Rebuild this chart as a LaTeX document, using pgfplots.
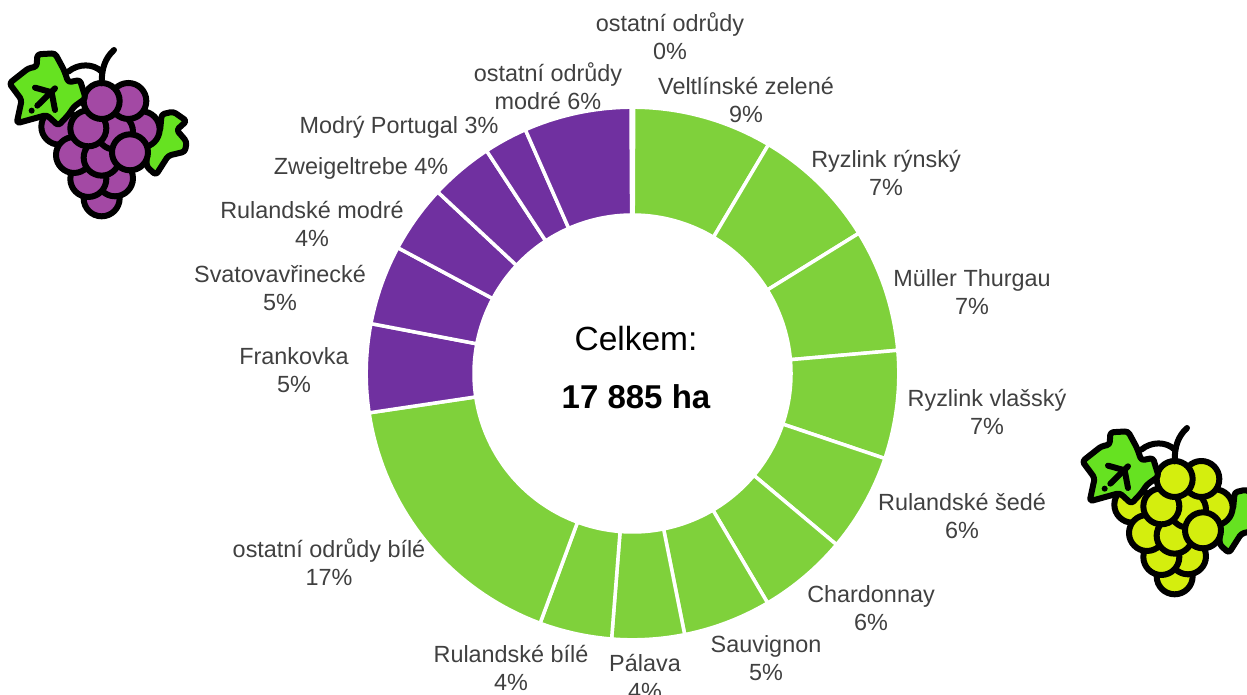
\documentclass[border=0pt]{standalone}
\usepackage{fontspec}
\setmainfont{Liberation Sans}
\usepackage{pgfplots}
\pgfplotsset{compat=1.18}

\definecolor{ringgreen}{HTML}{7FD13B}
\definecolor{ringpurple}{HTML}{7030A0}
\definecolor{labelgrey}{HTML}{404040}
\definecolor{leafgreen}{HTML}{66E221}
\definecolor{grapepurple}{HTML}{A349A4}
\definecolor{grapeyellow}{HTML}{D4EE0E}

% ring geometry in picture pixels
\newcommand\cx{632.5}
\newcommand\cy{373.5}
\newcommand\Rout{266.3}
\newcommand\Rin{158.5}
\gdef\cum{0.07}

% one ring slice: share in percent, colour
\newcommand\slice[2]{%
  \pgfmathsetmacro\sA{\cum*3.6}%
  \pgfmathsetmacro\sB{(\cum+#1)*3.6}%
  \gdef\pts{}%
  \foreach \i in {0,...,36}{%
    \pgfmathsetmacro\t{\sA+(\sB-\sA)*\i/36}%
    \pgfmathsetmacro\px{\cx+\Rout*sin(\t)}%
    \pgfmathsetmacro\py{\cy-\Rout*cos(\t)}%
    \xdef\pts{\pts (\px,\py)}%
  }%
  \foreach \i in {36,35,...,0}{%
    \pgfmathsetmacro\t{\sA+(\sB-\sA)*\i/36}%
    \pgfmathsetmacro\px{\cx+\Rin*sin(\t)}%
    \pgfmathsetmacro\py{\cy-\Rin*cos(\t)}%
    \xdef\pts{\pts (\px,\py)}%
  }%
  \edef\tmp{\noexpand\addplot[fill=#2,draw=white,line width=3.5pt,line join=round] coordinates {\pts} -- cycle;}%
  \tmp
  \pgfmathsetmacro\newcum{\cum+#1}%
  \xdef\cum{\newcum}%
}

\newcommand\lab[3]{\node[text=labelgrey,align=center,font=\fontsize{23.4}{28}\selectfont] at (axis cs:#1,#2) {#3};}

% grape icon: left and top of its box, colour of the berries
\newcommand\grapes[3]{%
  \begin{scope}[shift={(#1pt,695pt-#2pt)},x=0.3333pt,y=-0.3333pt,line width=6pt,line join=round,line cap=round,draw=black]
    \filldraw[fill=leafgreen,rounded corners=3pt] (440,300)--(480,290)--(485,238)--(520,230)--(560,258)--(530,285)--(560,320)--(555,350)--(505,362)--(468,420)--(440,395)--cycle;
    \foreach \gx/\gy/\gr in {305/490/54,345/430/54,265/432/54,178/275/54,425/283/54,222/360/54,305/368/54,345/290/54,265/280/54,385/198/54,305/198/54,390/352/54}{
      \filldraw[fill=#3] (\gx,\gy) circle[radius=\gr];
    }
    \draw (305,145) .. controls (305,100) and (315,70) .. (342,45);
    \draw (205,110) .. controls (235,85) and (280,85) .. (305,110);
    \filldraw[fill=leafgreen,rounded corners=3pt] (28,145)--(85,100)--(110,95)--(112,58)--(165,55)--(192,105)--(205,142)--(240,135)--(257,190)--(222,215)--(205,240)--(175,272)--(140,240)--(50,265)--(65,195)--cycle;
    \draw (112,212)--(165,160);
    \draw (105,158)--(155,172);
    \draw (155,172)--(165,225);
    \fill[black] (95,227) circle[radius=9];
  \end{scope}%
}

\begin{document}
\begin{tikzpicture}
\path[use as bounding box] (0,0) rectangle (1247pt,695pt);
\begin{axis}[at={(0,0)},anchor=south west,scale only axis,width=1247pt,height=695pt,
  xmin=0,xmax=1247,ymin=0,ymax=695,y dir=reverse,hide axis,clip=false]
% shares in percent, clockwise from the top
\slice{8.46}{ringgreen}  % Veltlinske zelene
\slice{7.64}{ringgreen}  % Ryzlink rynsky
\slice{7.44}{ringgreen}  % Muller Thurgau
\slice{6.56}{ringgreen}  % Ryzlink vlassky
\slice{5.94}{ringgreen}  % Rulandske sede
\slice{5.42}{ringgreen}  % Chardonnay
\slice{5.33}{ringgreen}  % Sauvignon
\slice{4.39}{ringgreen}  % Palava
\slice{4.39}{ringgreen}  % Rulandske bile
\slice{17.0}{ringgreen}  % ostatni bile
\slice{5.36}{ringpurple} % Frankovka
\slice{4.83}{ringpurple} % Svatovavrinecke
\slice{4.11}{ringpurple} % Rulandske modre
\slice{3.83}{ringpurple} % Zweigeltrebe
\slice{2.64}{ringpurple} % Modry Portugal
\slice{6.50}{ringpurple} % ostatni modre

\lab{670}{36}{ostatní odrůdy\\0\%}
\lab{746}{100}{Veltlínské zelené\\9\%}
\lab{886}{173}{Ryzlink rýnský\\7\%}
\lab{972}{292}{Müller Thurgau\\7\%}
\lab{987}{412}{Ryzlink vlašský\\7\%}
\lab{962}{516}{Rulandské šedé\\6\%}
\lab{871}{608}{Chardonnay\\6\%}
\lab{766}{658}{Sauvignon\\5\%}
\lab{645}{677}{Pálava\\4\%}
\lab{511}{668}{Rulandské bílé\\4\%}
\lab{329}{562}{ostatní odrůdy bílé\\17\%}
\lab{294}{370}{Frankovka\\5\%}
\lab{280}{288}{Svatovavřinecké\\5\%}
\lab{312}{224}{Rulandské modré\\4\%}
\lab{361}{168}{Zweigeltrebe 4\%}
\lab{399}{127}{Modrý Portugal 3\%}
\lab{548}{86}{ostatní odrůdy\\modré 6\%}
\node[font=\fontsize{33.5}{36}\selectfont] at (axis cs:636,339) {Celkem:};
\node[font=\fontsize{33}{36}\selectfont\bfseries] at (axis cs:636,397) {17 885 ha};
\end{axis}
\grapes{0}{35}{grapepurple}
\grapes{1073}{413}{grapeyellow}
\end{tikzpicture}
\end{document}
